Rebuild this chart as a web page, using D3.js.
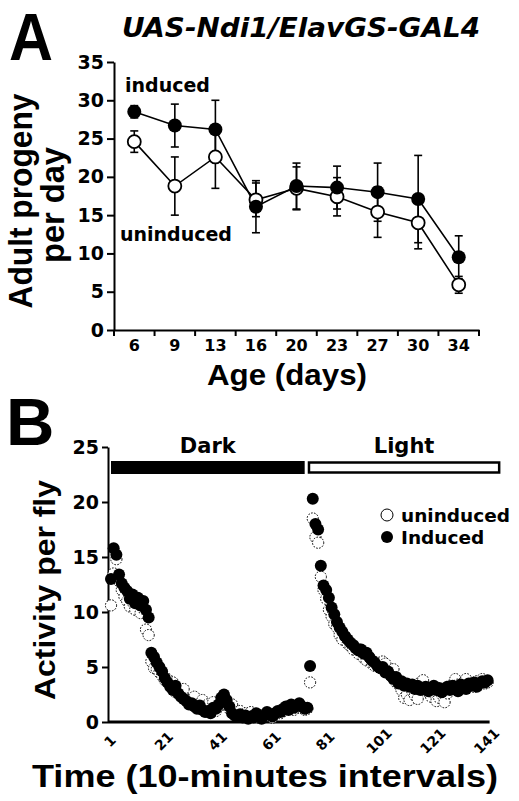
<!DOCTYPE html>
<html><head><meta charset="utf-8">
<script src="https://cdn.jsdelivr.net/npm/d3@7"></script>
<style>body{margin:0;background:#fff}</style>
</head><body><svg id="c" width="519" height="801"></svg>
<script>
// ---------- Panel A data ----------
const ages = ["6","9","13","16","20","23","27","30","34"];
const inducedA = [28.5,26.7,26.2,16.1,18.8,18.6,18.0,17.1,9.5];
const inducedAErr = [0.8,2.8,3.8,3.4,3.0,2.8,3.8,5.7,2.8];
const uninducedA = [24.6,18.8,22.6,17.0,18.5,17.4,15.4,14.0,5.9];
const uninducedAErr = [1.4,3.8,4.1,2.2,2.8,2.5,3.3,3.4,1.1];
const yTicksA = [0,5,10,15,20,25,30,35];

// ---------- Panel B data ----------
const timeTicks = [1,21,41,61,81,101,121,141];
const yTicksB = [0,5,10,15,20,25];
const inducedB = [13.0,15.8,15.2,13.4,12.6,12.2,11.9,11.2,11.6,10.8,
 11.3,10.6,11.0,10.2,9.5,6.3,5.9,5.4,5.0,4.6,
 4.0,3.6,3.2,2.9,3.3,2.6,2.3,2.1,1.9,1.6,
 1.7,1.4,1.2,1.5,1.1,0.9,1.0,0.8,1.3,1.2,
 1.6,2.2,2.5,2.0,1.4,0.8,0.6,0.5,0.7,0.4,
 0.6,0.3,0.5,0.4,0.8,0.5,0.3,0.6,0.9,0.7,
 0.5,0.8,1.0,0.9,1.2,1.4,1.1,1.6,1.3,1.5,
 1.7,1.4,1.2,1.3,5.1,20.3,18.0,17.5,14.2,12.4,
 12.0,11.3,10.4,9.8,9.1,8.6,8.2,7.8,7.5,7.2,
 7.0,6.7,6.5,6.6,6.2,6.3,5.9,5.6,5.4,5.1,
 4.9,5.0,4.5,4.6,4.2,3.9,4.1,3.5,3.7,3.3,
 3.5,3.2,3.4,3.0,3.3,2.9,3.1,3.2,2.8,3.0,
 3.3,2.9,3.1,2.7,3.0,3.2,2.9,3.3,3.1,2.8,
 3.4,3.2,3.0,3.5,3.3,3.6,3.2,3.5,3.7,3.6,
 3.8];
const uninducedB = [10.6,13.5,14.8,12.8,12.0,11.4,11.0,10.5,10.9,10.2,
 10.8,9.9,10.3,8.4,7.9,5.5,4.9,4.8,4.5,4.2,
 3.8,3.9,3.4,3.6,2.7,2.8,2.5,3.0,2.1,2.0,
 1.8,2.3,1.5,1.4,2.0,1.2,1.6,0.9,1.8,1.0,
 1.4,1.7,2.0,1.5,1.2,1.6,0.9,0.7,1.0,0.6,
 0.8,0.5,0.9,0.6,0.7,0.4,0.6,0.5,0.8,0.6,
 0.4,0.7,0.9,0.8,1.0,1.3,1.2,1.4,1.1,1.3,
 1.5,1.3,1.1,1.2,3.6,18.5,16.8,16.3,13.2,12.0,
 11.2,10.2,9.6,8.9,8.6,7.9,7.5,7.8,7.1,6.9,
 6.6,6.8,6.2,6.5,5.8,5.6,5.9,5.3,5.1,5.4,
 4.9,5.5,5.3,4.5,4.2,4.8,3.6,3.4,2.9,2.2,
 2.5,2.0,2.8,2.4,2.1,3.6,3.8,3.0,2.7,2.3,
 2.6,1.9,2.2,2.5,1.8,2.6,3.3,3.0,3.9,3.4,
 3.1,3.6,3.9,3.3,3.5,3.2,3.7,3.4,3.9,3.5,
 3.6];
const phaseLabels = ["Dark","Light"];
const phaseStart = [1,74.6];
const phaseEnd = [73,145.3];
const legendLabels = ["uninduced","Induced"];

const FD = "'DejaVu Sans', sans-serif";
const FL = "'Liberation Sans', Arial, sans-serif";
const svg = d3.select("#c");

// ================= PANEL A =================
const xA = d3.scaleBand().domain(ages).range([114,479]);
const yA = d3.scaleLinear().domain([0,35]).range([330,62]);

svg.append("text").attr("x",9).attr("y",60).attr("font-family",FL).attr("font-weight","bold")
  .attr("font-size",66).attr("textLength",44).attr("lengthAdjust","spacingAndGlyphs").text("A");
svg.append("text").attr("x",122).attr("y",37).attr("font-family",FD).attr("font-weight","bold")
  .attr("font-style","italic").attr("font-size",27).attr("textLength",358)
  .attr("lengthAdjust","spacingAndGlyphs").text("UAS-Ndi1/ElavGS-GAL4");

// y axis A
const gyA = svg.append("g").attr("transform","translate(114,0)")
  .call(d3.axisLeft(yA).tickValues(yTicksA).tickSize(7).tickPadding(3).tickSizeOuter(0));
gyA.select(".domain").attr("stroke-width",2);
gyA.selectAll(".tick line").attr("stroke-width",2);
gyA.selectAll("text").attr("font-family",FD).attr("font-weight","bold").attr("font-size",19).attr("fill","#000");

// x axis A
const gxA = svg.append("g").attr("transform","translate(0,330)")
  .call(d3.axisBottom(xA).tickSize(0).tickPadding(10).tickSizeOuter(0));
gxA.select(".domain").attr("stroke-width",2.2);
gxA.selectAll("text").attr("font-family",FD).attr("font-weight","bold").attr("font-size",16).attr("fill","#000");
// boundary tick marks
const bounds = ages.map(a => xA(a) + xA.bandwidth()).concat([xA(ages[0])]);
svg.append("g").selectAll("line").data(bounds).join("line")
  .attr("x1",d=>d).attr("x2",d=>d).attr("y1",330).attr("y2",336)
  .attr("stroke","#000").attr("stroke-width",2);

// axis titles A
svg.append("text").attr("transform","translate(32,201) rotate(-90)").attr("text-anchor","middle")
  .attr("font-family",FL).attr("font-weight","bold").attr("font-size",33)
  .attr("textLength",215).attr("lengthAdjust","spacingAndGlyphs").text("Adult progeny");
svg.append("text").attr("transform","translate(64,205) rotate(-90)").attr("text-anchor","middle")
  .attr("font-family",FL).attr("font-weight","bold").attr("font-size",33)
  .attr("textLength",116).attr("lengthAdjust","spacingAndGlyphs").text("per day");
svg.append("text").attr("x",287).attr("y",385).attr("text-anchor","middle")
  .attr("font-family",FL).attr("font-weight","bold").attr("font-size",30)
  .attr("textLength",160).attr("lengthAdjust","spacingAndGlyphs").text("Age (days)");

const cx = d => xA(d) + xA.bandwidth()/2;
const lineA = d3.line().x((v,i)=>cx(ages[i])).y(v=>yA(v));
svg.append("path").attr("d",lineA(uninducedA)).attr("fill","none").attr("stroke","#000").attr("stroke-width",1.6);
svg.append("path").attr("d",lineA(inducedA)).attr("fill","none").attr("stroke","#000").attr("stroke-width",1.6);

function errBars(vals, errs){
  const g = svg.append("g").attr("stroke","#000").attr("stroke-width",1.6);
  vals.forEach((v,i)=>{
    const x = cx(ages[i]);
    g.append("line").attr("x1",x).attr("x2",x).attr("y1",yA(v-errs[i])).attr("y2",yA(v+errs[i]));
    g.append("line").attr("x1",x-4).attr("x2",x+4).attr("y1",yA(v-errs[i])).attr("y2",yA(v-errs[i]));
    g.append("line").attr("x1",x-4).attr("x2",x+4).attr("y1",yA(v+errs[i])).attr("y2",yA(v+errs[i]));
  });
}
errBars(uninducedA, uninducedAErr);
errBars(inducedA, inducedAErr);

svg.append("g").selectAll("circle").data(uninducedA).join("circle")
  .attr("cx",(v,i)=>cx(ages[i])).attr("cy",v=>yA(v)).attr("r",6.5)
  .attr("fill","#fff").attr("stroke","#000").attr("stroke-width",1.8);
svg.append("g").selectAll("circle").data(inducedA).join("circle")
  .attr("cx",(v,i)=>cx(ages[i])).attr("cy",v=>yA(v)).attr("r",7)
  .attr("fill","#000");

svg.append("text").attr("x",125).attr("y",92).attr("font-family",FD).attr("font-weight","bold")
  .attr("font-size",19).text("induced");
svg.append("text").attr("x",120).attr("y",241).attr("font-family",FD).attr("font-weight","bold")
  .attr("font-size",19).text("uninduced");

// ================= PANEL B =================
const xB = d3.scaleLinear().domain([1,141]).range([111,487.6]);
const yB = d3.scaleLinear().domain([0,25]).range([722,447]);

svg.append("text").attr("x",6).attr("y",445).attr("font-family",FL).attr("font-weight","bold")
  .attr("font-size",67).text("B");

const gyB = svg.append("g").attr("transform","translate(108,0)")
  .call(d3.axisLeft(yB).tickValues(yTicksB).tickSize(6).tickPadding(3).tickSizeOuter(0));
gyB.select(".domain").attr("stroke-width",2);
gyB.selectAll(".tick line").attr("stroke-width",2);
gyB.selectAll("text").attr("font-family",FD).attr("font-weight","bold").attr("font-size",19).attr("fill","#000");

svg.append("line").attr("x1",108).attr("x2",xB(141)+2).attr("y1",722).attr("y2",722)
  .attr("stroke","#000").attr("stroke-width",3);
svg.append("g").selectAll("text").data(timeTicks).join("text")
  .attr("transform",d=>`translate(${xB(d)-1},741) rotate(-45)`)
  .attr("text-anchor","middle").attr("dominant-baseline","central")
  .attr("font-family",FD).attr("font-weight","bold").attr("font-size",14).text(d=>d);

// phase bars
phaseLabels.forEach((lab,i)=>{
  const x0 = xB(phaseStart[i]), x1 = xB(phaseEnd[i]);
  svg.append("rect").attr("x",x0).attr("y",i===0?461:462.5).attr("width",x1-x0).attr("height",i===0?13:10)
    .attr("fill",i===0?"#000":"#fff").attr("stroke","#000").attr("stroke-width",i===0?0:2.5);
  svg.append("text").attr("x",(x0+x1)/2).attr("y",453).attr("text-anchor","middle")
    .attr("font-family",FD).attr("font-weight","bold").attr("font-size",21).text(lab);
});

// scatter
svg.append("g").selectAll("circle").data(uninducedB).join("circle")
  .attr("cx",(v,i)=>xB(i+1)).attr("cy",v=>yB(v)).attr("r",5.6)
  .attr("fill","#fff").attr("stroke","#000").attr("stroke-width",1).attr("stroke-dasharray","1.6,1.4");
svg.append("g").selectAll("circle").data(inducedB).join("circle")
  .attr("cx",(v,i)=>xB(i+1)).attr("cy",v=>yB(v)).attr("r",6)
  .attr("fill","#000");

// legend
legendLabels.forEach((lab,i)=>{
  const y = 515 + i*22;
  svg.append("circle").attr("cx",387).attr("cy",y).attr("r",6)
    .attr("fill",i===0?"#fff":"#000").attr("stroke","#000").attr("stroke-width",i===0?1:0);
  svg.append("text").attr("x",401).attr("y",y+6.5).attr("font-family",FD).attr("font-weight","bold")
    .attr("font-size",18.5).text(lab);
});

// axis titles B
svg.append("text").attr("transform","translate(55,590) rotate(-90)").attr("text-anchor","middle")
  .attr("font-family",FL).attr("font-weight","bold").attr("font-size",30)
  .attr("textLength",220).attr("lengthAdjust","spacingAndGlyphs").text("Activity per fly");
svg.append("text").attr("x",265).attr("y",787).attr("text-anchor","middle")
  .attr("font-family",FL).attr("font-weight","bold").attr("font-size",32)
  .attr("textLength",466).attr("lengthAdjust","spacingAndGlyphs").text("Time (10-minutes intervals)");
</script></body></html>
